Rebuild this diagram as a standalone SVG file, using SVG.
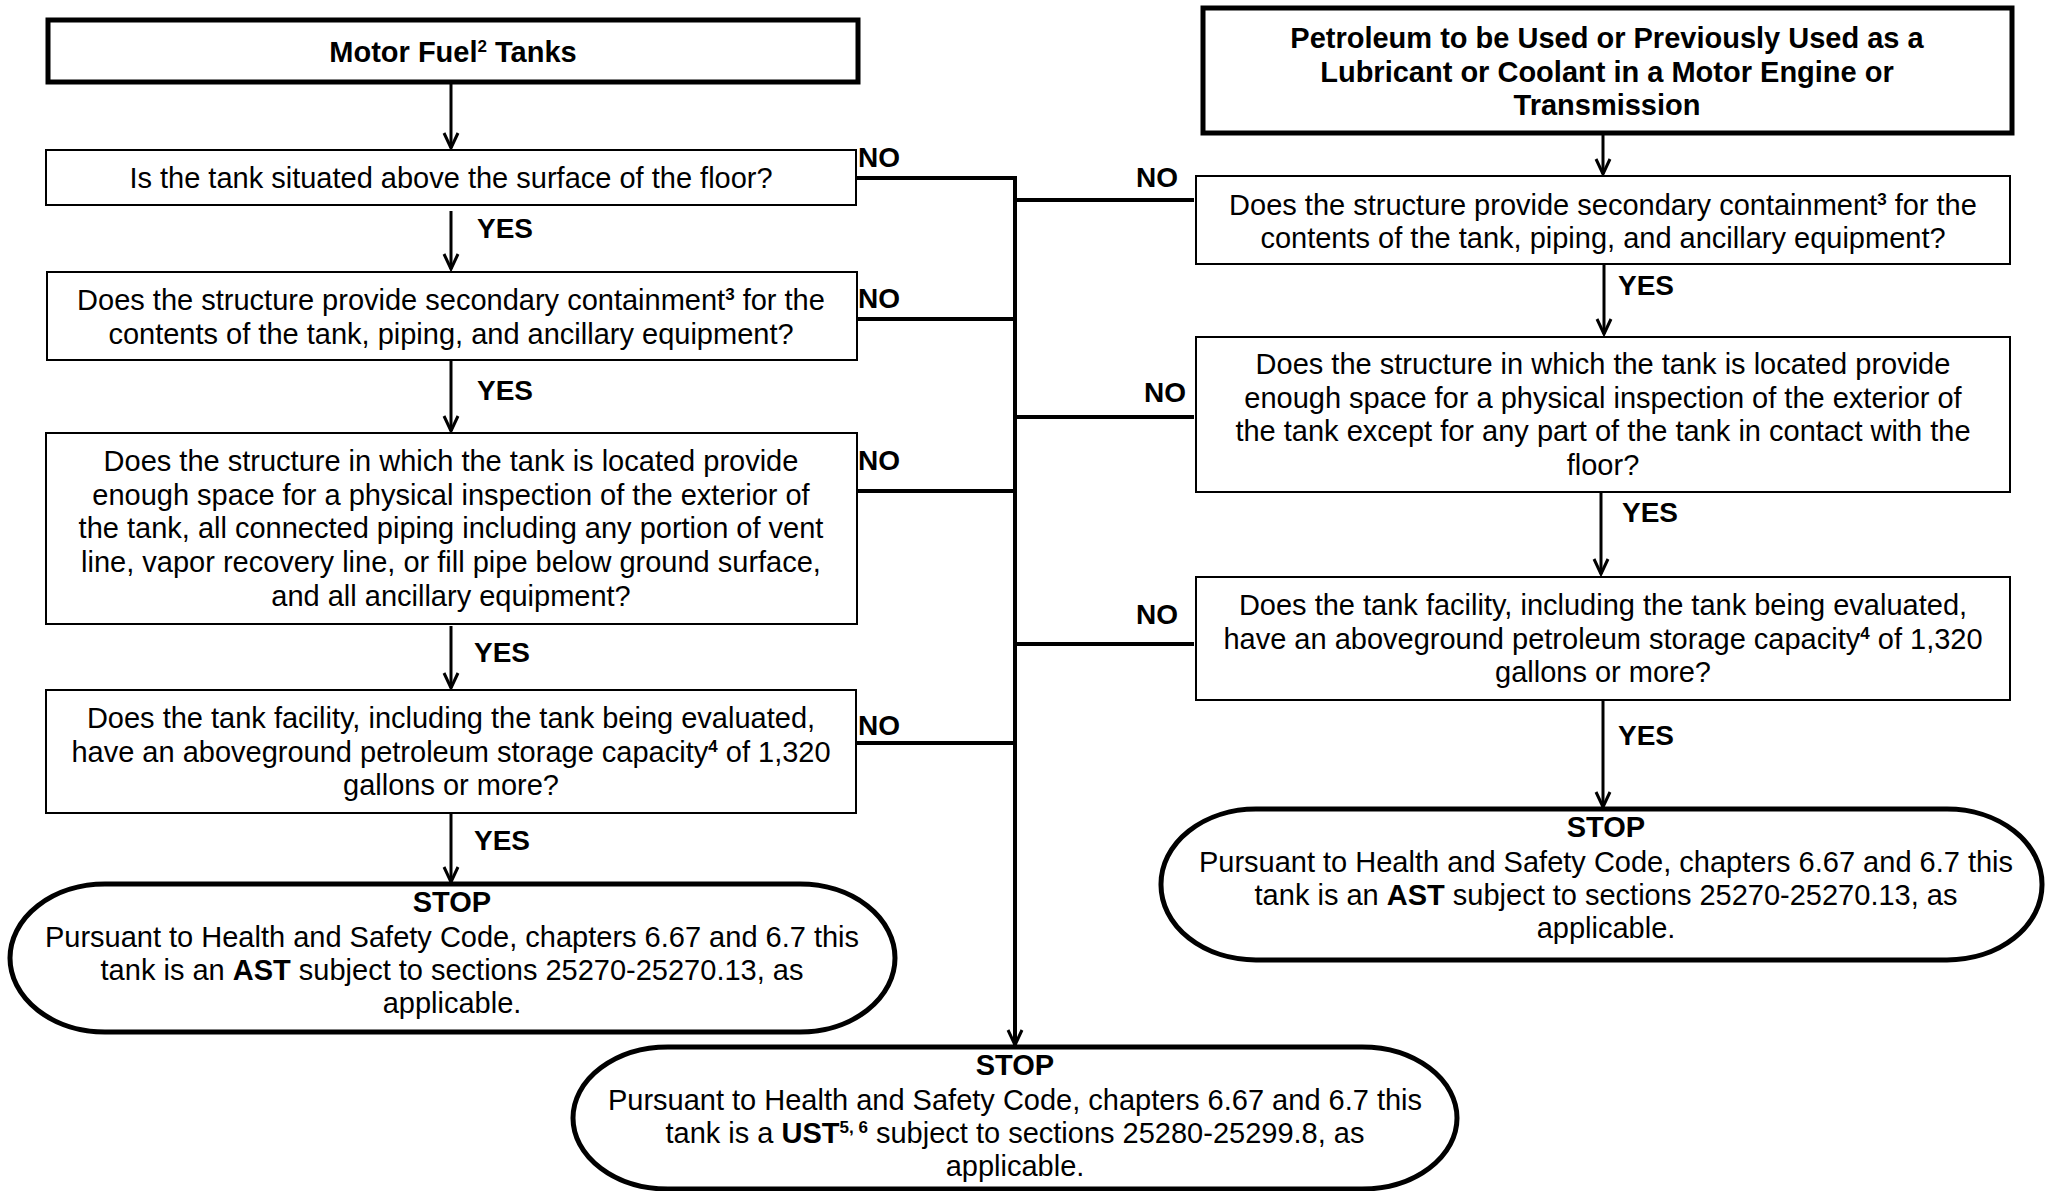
<svg xmlns="http://www.w3.org/2000/svg" width="2045" height="1191" viewBox="0 0 2045 1191">
<style>
.q{fill:#fff;stroke:#000;stroke-width:2}
.t{fill:#fff;stroke:#000;stroke-width:5}
.o{fill:#fff;stroke:#000;stroke-width:5}
text{font-family:"Liberation Sans",Arial,sans-serif;font-size:29px;fill:#000;text-anchor:middle}
.b{font-weight:bold}
.lbl{font-weight:bold;font-size:28px;text-anchor:start}
.sup{font-size:17px;font-weight:bold}
.c{stroke:#000;stroke-width:4;fill:none}
.a{stroke:#000;stroke-width:3;fill:none;marker-end:url(#ah)}
.v{stroke:#000;stroke-width:4;fill:none;marker-end:url(#ah)}
</style>
<defs>
<marker id="ah" markerUnits="userSpaceOnUse" viewBox="-2 -10 20 20" markerWidth="20" markerHeight="20" refX="15" refY="0" orient="auto">
<path d="M0,-7 L15,0 L0,7" fill="none" stroke="#000" stroke-width="3"/>
</marker>
</defs>
<rect width="2045" height="1191" fill="#fff"/>

<g id="connectors">
<path class="a" d="M451,82 L451,148"/>
<path class="a" d="M451,211 L451,269"/>
<path class="a" d="M451,360 L451,431"/>
<path class="a" d="M451,626 L451,688"/>
<path class="a" d="M451,813 L451,882"/>
<path class="a" d="M1603,133 L1603,174"/>
<path class="a" d="M1604,264 L1604,334"/>
<path class="a" d="M1601,492 L1601,574"/>
<path class="a" d="M1603,700 L1603,807"/>
<path class="c" d="M856,178 L1015,178"/>
<path class="c" d="M857,319 L1015,319"/>
<path class="c" d="M857,491 L1015,491"/>
<path class="c" d="M856,743 L1015,743"/>
<path class="c" d="M1015,200 L1194,200"/>
<path class="c" d="M1015,417 L1194,417"/>
<path class="c" d="M1015,644 L1194,644"/>
<path class="v" d="M1015,176 L1015,1045"/>
<text class="lbl" x="858" y="167">NO</text>
<text class="lbl" x="858" y="308">NO</text>
<text class="lbl" x="858" y="470">NO</text>
<text class="lbl" x="858" y="735">NO</text>
<text class="lbl" x="1136" y="187">NO</text>
<text class="lbl" x="1144" y="402">NO</text>
<text class="lbl" x="1136" y="624">NO</text>
<text class="lbl" x="477" y="238">YES</text>
<text class="lbl" x="477" y="400">YES</text>
<text class="lbl" x="474" y="662">YES</text>
<text class="lbl" x="474" y="850">YES</text>
<text class="lbl" x="1618" y="295">YES</text>
<text class="lbl" x="1622" y="522">YES</text>
<text class="lbl" x="1618" y="745">YES</text>
</g>

<g id="motor-fuel">
<rect class="t" x="48" y="20" width="810" height="62"/>
<text class="b" x="453" y="62">Motor Fuel<tspan class="sup" dy="-10">2</tspan><tspan dy="10"> Tanks</tspan></text>
</g>

<g id="petroleum">
<rect class="t" x="1203" y="8" width="809" height="125"/>
<text class="b" x="1607" y="48">Petroleum to be Used or Previously Used as a</text>
<text class="b" x="1607" y="82">Lubricant or Coolant in a Motor Engine or</text>
<text class="b" x="1607" y="115">Transmission</text>
</g>

<g id="lq1">
<rect class="q" x="46" y="150" width="810" height="55"/>
<text x="451" y="188">Is the tank situated above the surface of the floor?</text>
</g>

<g id="lq2">
<rect class="q" x="47" y="272" width="810" height="88"/>
<text x="451" y="310">Does the structure provide secondary containment<tspan class="sup" dy="-10">3</tspan><tspan dy="10"> for the</tspan></text>
<text x="451" y="344">contents of the tank, piping, and ancillary equipment?</text>
</g>

<g id="lq3">
<rect class="q" x="46" y="433" width="811" height="191"/>
<text x="451" y="471">Does the structure in which the tank is located provide</text>
<text x="451" y="505">enough space for a physical inspection of the exterior of</text>
<text x="451" y="538">the tank, all connected piping including any portion of vent</text>
<text x="451" y="572">line, vapor recovery line, or fill pipe below ground surface,</text>
<text x="451" y="606">and all ancillary equipment?</text>
</g>

<g id="lq4">
<rect class="q" x="46" y="690" width="810" height="123"/>
<text x="451" y="728">Does the tank facility, including the tank being evaluated,</text>
<text x="451" y="762">have an aboveground petroleum storage capacity<tspan class="sup" dy="-10">4</tspan><tspan dy="10"> of 1,320</tspan></text>
<text x="451" y="795">gallons or more?</text>
</g>

<g id="left-stop">
<rect class="o" x="10" y="884" width="885" height="148" rx="95" ry="74"/>
<text class="b" x="452" y="912">STOP</text>
<text x="452" y="947">Pursuant to Health and Safety Code, chapters 6.67 and 6.7 this</text>
<text x="452" y="980">tank is an <tspan class="b">AST</tspan> subject to sections 25270-25270.13, as</text>
<text x="452" y="1013">applicable.</text>
</g>

<g id="rq1">
<rect class="q" x="1196" y="176" width="814" height="88"/>
<text x="1603" y="215">Does the structure provide secondary containment<tspan class="sup" dy="-10">3</tspan><tspan dy="10"> for the</tspan></text>
<text x="1603" y="248">contents of the tank, piping, and ancillary equipment?</text>
</g>

<g id="rq2">
<rect class="q" x="1196" y="337" width="814" height="155"/>
<text x="1603" y="374">Does the structure in which the tank is located provide</text>
<text x="1603" y="408">enough space for a physical inspection of the exterior of</text>
<text x="1603" y="441">the tank except for any part of the tank in contact with the</text>
<text x="1603" y="475">floor?</text>
</g>

<g id="rq3">
<rect class="q" x="1196" y="577" width="814" height="123"/>
<text x="1603" y="615">Does the tank facility, including the tank being evaluated,</text>
<text x="1603" y="649">have an aboveground petroleum storage capacity<tspan class="sup" dy="-10">4</tspan><tspan dy="10"> of 1,320</tspan></text>
<text x="1603" y="682">gallons or more?</text>
</g>

<g id="right-stop">
<rect class="o" x="1161" y="809" width="881" height="151" rx="95" ry="75"/>
<text class="b" x="1606" y="837">STOP</text>
<text x="1606" y="872">Pursuant to Health and Safety Code, chapters 6.67 and 6.7 this</text>
<text x="1606" y="905">tank is an <tspan class="b">AST</tspan> subject to sections 25270-25270.13, as</text>
<text x="1606" y="938">applicable.</text>
</g>

<g id="ust-stop">
<rect class="o" x="573" y="1047" width="884" height="142" rx="95" ry="71"/>
<text class="b" x="1015" y="1075">STOP</text>
<text x="1015" y="1110">Pursuant to Health and Safety Code, chapters 6.67 and 6.7 this</text>
<text x="1015" y="1143">tank is a <tspan class="b">UST</tspan><tspan class="sup" dy="-10">5, 6</tspan><tspan dy="10"> subject to sections 25280-25299.8, as</tspan></text>
<text x="1015" y="1176">applicable.</text>
</g>
</svg>
